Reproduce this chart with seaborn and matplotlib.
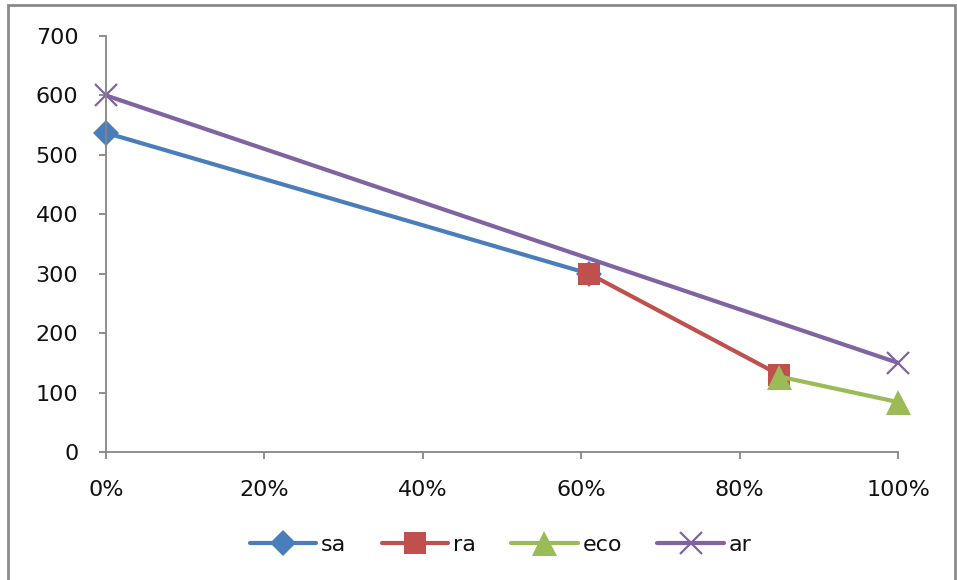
import matplotlib
matplotlib.use("Agg")
import matplotlib.pyplot as plt
import seaborn as sns
import pandas as pd
from matplotlib.patches import Rectangle
from matplotlib.ticker import PercentFormatter

# Series data: share (x) vs value (y)
sa_x = [0.0, 0.61]
sa_y = [537, 300]
ra_x = [0.61, 0.85]
ra_y = [300, 130]
eco_x = [0.85, 1.0]
eco_y = [127, 84]
ar_x = [0.0, 1.0]
ar_y = [600, 150]

series_names = ["sa", "ra", "eco", "ar"]
series_colors = ["#4A7EBB", "#C0504D", "#9BBB59", "#8064A2"]
series_markers = ["D", "s", "^", "x"]
marker_sizes = [13, 16, 18, 16]

x_ticks = [0, 0.2, 0.4, 0.6, 0.8, 1.0]
y_ticks = [0, 100, 200, 300, 400, 500, 600, 700]

sns.set_style("white")
plt.rcParams["font.family"] = ["DejaVu Sans"]

fig = plt.figure(figsize=(9.57, 5.80), dpi=100)
ax = fig.add_axes([0.1108, 0.2207, 0.8276, 0.7172])

frames = []
for name, xs, ys in zip(series_names, [sa_x, ra_x, eco_x, ar_x], [sa_y, ra_y, eco_y, ar_y]):
    frames.append(pd.DataFrame({"x": xs, "y": ys, "series": name}))
df = pd.concat(frames, ignore_index=True)

for name, color, mk, ms in zip(series_names, series_colors, series_markers, marker_sizes):
    sub = df[df["series"] == name]
    sns.lineplot(data=sub, x="x", y="y", ax=ax, color=color, linewidth=3,
                 marker=mk, markersize=ms, markeredgewidth=1.6 if mk == "x" else 0,
                 markeredgecolor=color, label=name, legend=False)

ax.set_xlim(0, 1.0)
ax.set_ylim(0, 700)
ax.set_xticks(x_ticks)
ax.set_yticks(y_ticks)
ax.xaxis.set_major_formatter(PercentFormatter(1.0, decimals=0))
ax.set_xlabel("")
ax.set_ylabel("")
for s in ["top", "right"]:
    ax.spines[s].set_visible(False)
for s in ["left", "bottom"]:
    ax.spines[s].set_color("#868686")
    ax.spines[s].set_linewidth(1.3)
ax.tick_params(axis="both", direction="out", length=5, width=1.3, color="#868686",
               labelsize=16, labelcolor="#111111", bottom=True, left=True)
ax.tick_params(axis="x", pad=15)
ax.tick_params(axis="y", pad=15)
for lbl in ax.get_xticklabels():
    lbl.set_clip_on(False)
for line in ax.lines:
    line.set_clip_on(False)

handles, labels = ax.get_legend_handles_labels()
fig.legend(handles, labels, loc="center", bbox_to_anchor=(0.523, 0.06), ncol=4,
           frameon=False, fontsize=16, handlelength=3.0, handletextpad=0.2,
           columnspacing=1.6, labelcolor="#111111")

# Outer chart border
fig.patches.append(Rectangle((8 / 957, -0.05), (955 - 8) / 957, 1 - 5 / 580 + 0.05,
                             transform=fig.transFigure, fill=False,
                             edgecolor="#8A8A8A", linewidth=2))

fig.savefig("out.png", dpi=100)
